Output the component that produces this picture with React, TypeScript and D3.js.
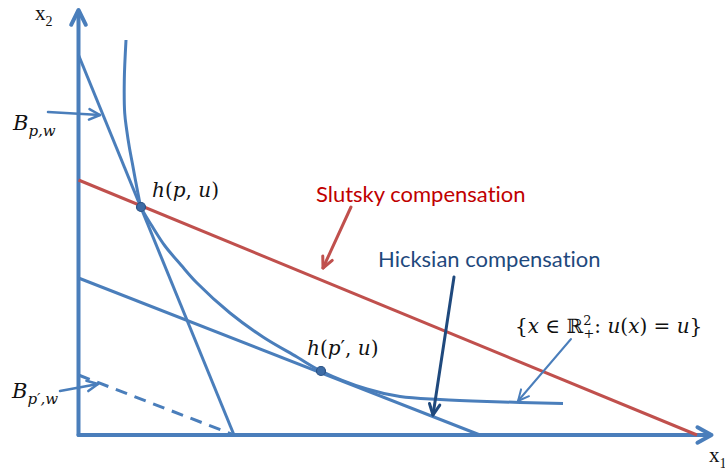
import React from "react";
import * as d3 from "d3";

// chart units: x 0..640, y 0..425 (origin at the axes corner)
const budgetP = [[0, 380], [155.5, 0]];
const slutskyLine = [[0, 255], [618.5, 0]];
const hicksLine = [[0, 157], [401.5, 0]];
const budgetPPrime = [[0, 60], [155.5, 0]];

const indifference = [
  [47.5, 395], [45.8, 355], [46.2, 322], [48.2, 305], [50.8, 288], [53.8, 272],
  [56.9, 255], [60.2, 238], [62.5, 228], [73.5, 209], [86.5, 189], [102.5, 170],
  [118.5, 152], [151.5, 122], [184.5, 98], [218.5, 78], [242.5, 64], [288.5, 46],
  [321.5, 38.5], [361.5, 35.5], [408.5, 33.5], [484.5, 31.5],
];

const choicePoints = [[62.5, 228], [242.5, 64]];

const annotationArrows = [
  { from: [-30.5, 323], to: [21.5, 320], color: "#4A7EBB", width: 2.5 },
  { from: [-18.5, 44], to: [19.5, 51], color: "#4A7EBB", width: 2.5 },
  { from: [272.5, 228], to: [244.5, 167], color: "#C0504D", width: 3 },
  { from: [375.5, 158], to: [354.5, 20], color: "#1F497D", width: 3 },
  { from: [492.5, 96], to: [439.5, 34], color: "#4A7EBB", width: 2 },
];

const xAxisEnd = 633;
const yAxisEnd = 425;

function head(x1, y1, x2, y2, len, spread) {
  const a = Math.atan2(y2 - y1, x2 - x1);
  return `M${x2 - len * Math.cos(a - spread)},${y2 - len * Math.sin(a - spread)} L${x2},${y2} L${x2 - len * Math.cos(a + spread)},${y2 - len * Math.sin(a + spread)}`;
}

export default function App() {
  const width = 725;
  const height = 468;
  const x = d3.scaleLinear().domain([0, 640]).range([78.5, 718.5]);
  const y = d3.scaleLinear().domain([0, 425]).range([435, 10]);

  const line = d3.line<number[]>().x((d) => x(d[0])).y((d) => y(d[1]));
  const curve = d3
    .line<number[]>()
    .x((d) => x(d[0]))
    .y((d) => y(d[1]))
    .curve(d3.curveCatmullRom.alpha(0.5));

  const blue = "#4A7EBB";
  const red = "#C0504D";
  const mathFont = "'DejaVu Serif', serif";
  const sansFont = "Lato, 'Open Sans', sans-serif";

  return (
    <svg
      width={width}
      height={height}
      style={{ position: "absolute", left: 0, top: 0, background: "#fff" }}
    >
      {/* axes */}
      <g stroke={blue} strokeWidth={4} fill="none" strokeLinecap="round" strokeLinejoin="round">
        <path d={`M${x(0)},${y(0)} L${x(0)},${y(yAxisEnd) + 2}`} />
        <path d={`M${x(0)},${y(0)} L${x(xAxisEnd) - 2},${y(0)}`} />
        <path d={head(x(0), y(0), x(0), y(yAxisEnd), 16.5, 0.46)} />
        <path d={head(x(0), y(0), x(xAxisEnd), y(0), 16, 0.5)} />
      </g>

      {/* budget lines and indifference curve */}
      <g fill="none" strokeWidth={3}>
        <path d={line(budgetP)} stroke={blue} />
        <path d={line(hicksLine)} stroke={blue} />
        <path d={line(budgetPPrime)} stroke={blue} strokeDasharray="12 8" />
        <path d={line(slutskyLine)} stroke={red} />
        <path d={curve(indifference)} stroke={blue} />
      </g>

      {/* arrows */}
      {annotationArrows.map((a, i) => {
        const x1 = x(a.from[0]), y1 = y(a.from[1]), x2 = x(a.to[0]), y2 = y(a.to[1]);
        return (
          <g key={i} stroke={a.color} strokeWidth={a.width} fill="none" strokeLinecap="round" strokeLinejoin="round">
            <path d={`M${x1},${y1} L${x2},${y2}`} />
            <path d={head(x1, y1, x2, y2, 12, 0.45)} />
          </g>
        );
      })}

      {choicePoints.map((p, i) => (
        <circle key={i} cx={x(p[0])} cy={y(p[1])} r={4.5} fill="#3D6CA6" stroke="#2B5284" strokeWidth={1.2} />
      ))}

      {/* axis labels */}
      <text x={x(-43.5)} y={y(415)} fontFamily="'Liberation Serif', serif" fontSize={21} fill="#111">
        x<tspan fontSize={14} dy={6}>2</tspan>
      </text>
      <text x={x(630.5)} y={y(-27)} fontFamily="'Liberation Serif', serif" fontSize={21} fill="#111">
        x<tspan fontSize={14} dy={6}>1</tspan>
      </text>

      {/* budget set labels */}
      <text x={x(-65.5)} y={y(305)} fontFamily={mathFont} fontStyle="italic" fontSize={21} fill="#111">
        B<tspan fontSize={15} dy={6}>p,w</tspan>
      </text>
      <text x={x(-66.5)} y={y(37)} fontFamily={mathFont} fontStyle="italic" fontSize={21} fill="#111">
        B<tspan fontSize={15} dy={6}>p′,w</tspan>
      </text>

      {/* point labels */}
      <text x={x(73.5)} y={y(238)} fontFamily={mathFont} fontSize={20} fill="#111">
        <tspan fontStyle="italic">h</tspan>(<tspan fontStyle="italic">p</tspan>, <tspan fontStyle="italic">u</tspan>)
      </text>
      <text x={x(228.5)} y={y(80)} fontFamily={mathFont} fontSize={20} fill="#111">
        <tspan fontStyle="italic">h</tspan>(<tspan fontStyle="italic">p</tspan>′, <tspan fontStyle="italic">u</tspan>)
      </text>

      <text x={x(237.5)} y={y(233)} fontFamily={sansFont} fontSize={22} fill="#C00000" style={{ fontVariantLigatures: "none" }}>
        Slutsky compensation
      </text>
      <text x={x(299.5)} y={y(168)} fontFamily={sansFont} fontSize={22} fill="#1F497D" style={{ fontVariantLigatures: "none" }}>
        Hicksian compensation
      </text>

      <text x={x(436.5)} y={y(102)} fontFamily={mathFont} fontSize={20} fill="#111">
        {"{"}<tspan fontStyle="italic">x</tspan> ∈ ℝ
        <tspan fontSize={13} dy={-8}>2</tspan>
        <tspan fontSize={13} dx={-8} dy={13}>+</tspan>
        <tspan dy={-5}>: </tspan>
        <tspan fontStyle="italic">u</tspan>(<tspan fontStyle="italic">x</tspan>) = <tspan fontStyle="italic">u</tspan>{"}"}
      </text>
    </svg>
  );
}
